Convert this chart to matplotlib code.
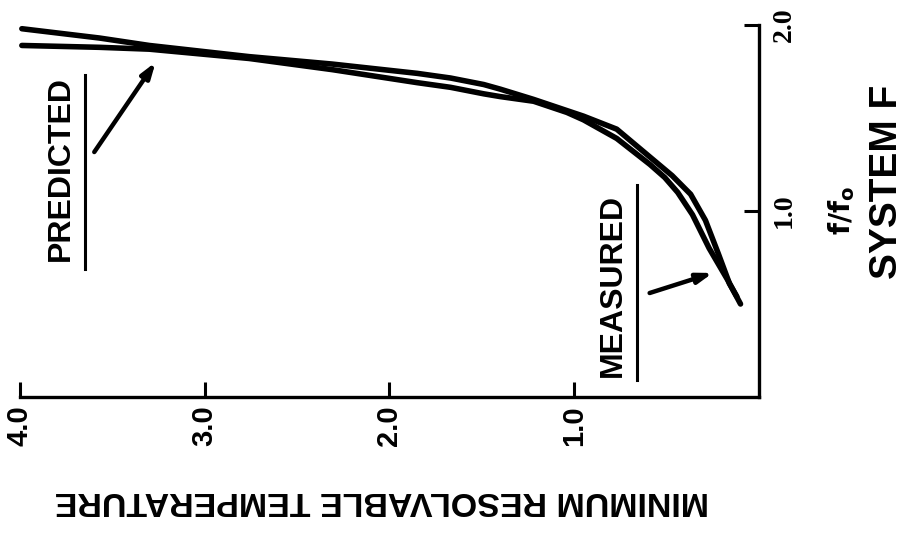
import matplotlib
matplotlib.use("Agg")
import matplotlib.pyplot as plt

# ==================== Data ====================
# MRT values and matching f/f0 values for the two curves
PRED_MRT = [3.99, 3.57, 3.30, 2.76, 2.31, 1.85, 1.67, 1.49, 1.40, 1.22, 1.04, 0.95, 0.77,
            0.59, 0.47, 0.37, 0.29, 0.22, 0.16, 0.12]
PRED_F = [1.98, 1.93, 1.89, 1.83, 1.79, 1.74, 1.715, 1.68, 1.655, 1.60, 1.54, 1.51, 1.44,
          1.29, 1.19, 1.09, 0.95, 0.77, 0.61, 0.54]

MEAS_MRT = [3.99, 3.57, 3.30, 2.76, 2.31, 1.85, 1.67, 1.49, 1.40, 1.22, 1.04, 0.95, 0.77,
            0.59, 0.51, 0.44, 0.36, 0.27, 0.17, 0.10]
MEAS_F = [1.89, 1.88, 1.87, 1.82, 1.76, 1.69, 1.665, 1.63, 1.615, 1.59, 1.53, 1.49, 1.39,
          1.25, 1.18, 1.10, 0.98, 0.80, 0.63, 0.50]

MRT_TICKS = [4.0, 3.0, 2.0, 1.0]
MRT_TICK_LABELS = ["4.0", "3.0", "2.0", "1.0"]
F_TICKS = [1.0, 2.0]
F_TICK_LABELS = ["1.0", "2.0"]

# ==================== Style ====================
W, H = 912, 538
INK = "black"
LABEL_FONT = ["Liberation Sans", "DejaVu Sans"]
TICK_FONT = ["Liberation Serif", "DejaVu Serif"]
CURVE_LW = 4.0
SPINE_LW = 2.4


def px(x, y):
    """pixel (from top-left) -> figure fraction"""
    return x / W, 1 - y / H


fig = plt.figure(figsize=(W / 100, H / 100), dpi=100)
fig.patch.set_facecolor("white")

l, b = px(20, 397)
ax = fig.add_axes([l, b, (759 - 20) / W, (397 - 25) / H])
ax.set_xlim(4.0, 0.0)
ax.set_ylim(0.0, 2.0)

# curves
for xs, ys in [(PRED_MRT, PRED_F), (MEAS_MRT, MEAS_F)]:
    ax.plot(xs, ys, color=INK, lw=CURVE_LW, solid_capstyle="round",
            solid_joinstyle="round", clip_on=False)

# spines
for s in ["top", "left"]:
    ax.spines[s].set_visible(False)
for s in ["bottom", "right"]:
    ax.spines[s].set_linewidth(SPINE_LW)
    ax.spines[s].set_color(INK)

# bottom (MRT) ticks
ax.set_xticks(MRT_TICKS)
ax.set_xticklabels(MRT_TICK_LABELS, rotation=90, fontfamily=LABEL_FONT,
                   fontweight="bold", fontsize=21)
ax.tick_params(axis="x", direction="in", length=11, width=2.2, pad=6)

# right (f/f0) ticks
ax.yaxis.tick_right()
ax.set_yticks(F_TICKS)
ax.set_yticklabels(F_TICK_LABELS, rotation=90, fontfamily=TICK_FONT,
                   fontweight="bold", fontsize=20, va="center")
ax.tick_params(axis="y", direction="in", length=11, width=2.2, pad=9)

# curve labels with underline and arrow
ax.text(3.78, 1.23, "PREDICTED", rotation=90, ha="center", va="center",
        fontfamily=LABEL_FONT, fontweight="bold", fontsize=23)
ax.plot([3.648, 3.648], [0.69, 1.73], color=INK, lw=2.2)
ax.annotate("", xy=(3.266, 1.80), xytext=(3.598, 1.317),
            arrowprops=dict(arrowstyle="-|>,head_length=0.9,head_width=0.3",
                            color=INK, lw=3.2, shrinkA=0, shrinkB=0))

ax.text(0.79, 0.60, "MEASURED", rotation=90, ha="center", va="center",
        fontfamily=LABEL_FONT, fontweight="bold", fontsize=23)
ax.plot([0.66, 0.66], [0.09, 1.14], color=INK, lw=2.2)
ax.annotate("", xy=(0.25, 0.667), xytext=(0.592, 0.559),
            arrowprops=dict(arrowstyle="-|>,head_length=0.9,head_width=0.3",
                            color=INK, lw=3.2, shrinkA=0, shrinkB=0))

# axis titles
fig.text(*px(382, 500), "MINIMUM RESOLVABLE TEMPERATURE", rotation=180,
         ha="center", va="center", fontfamily=LABEL_FONT, fontweight="bold", fontsize=24.5)
fig.text(*px(842, 210), r"$\mathbf{f/f_o}$", rotation=90, ha="center", va="center",
         fontsize=20)
fig.text(*px(887, 182), "SYSTEM F", rotation=90, ha="center", va="center",
         fontfamily=LABEL_FONT, fontweight="bold", fontsize=28)

fig.savefig("out.png", dpi=100, facecolor="white")
